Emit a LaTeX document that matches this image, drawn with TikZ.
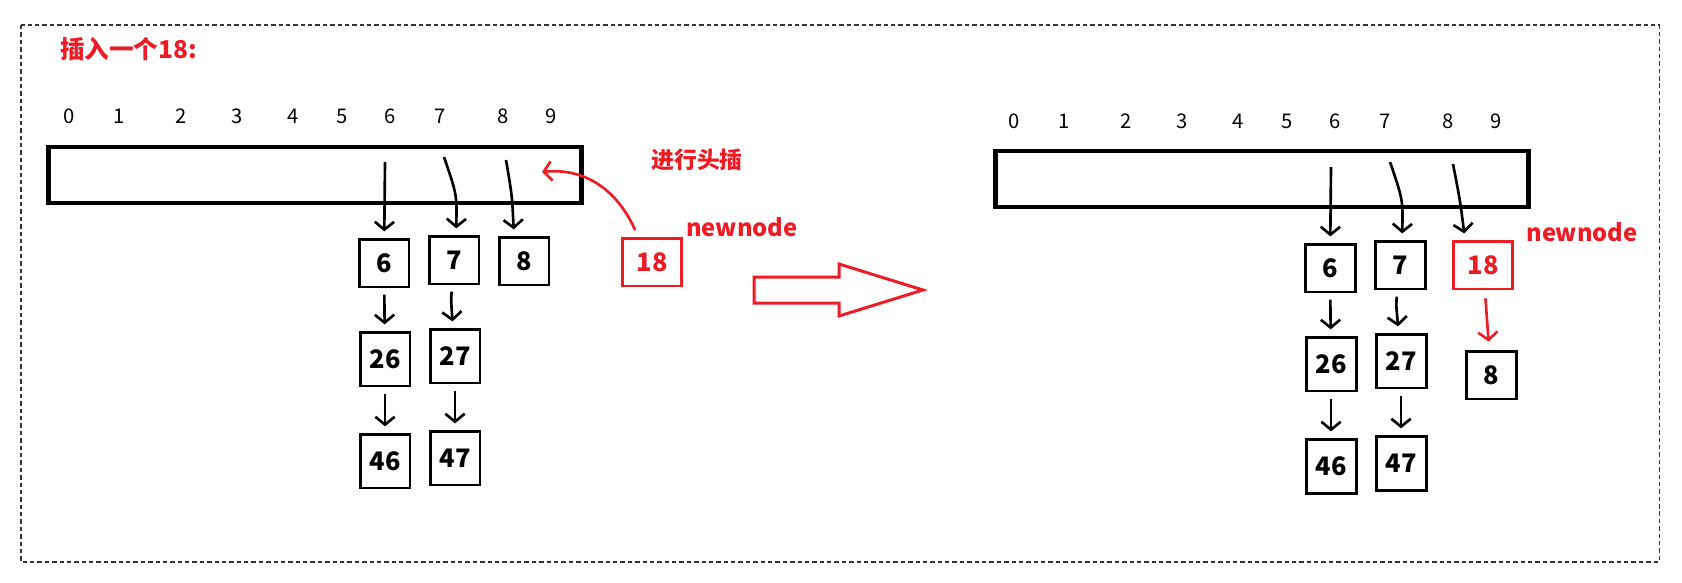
\documentclass[tikz,border=0pt]{standalone}
\usepackage{fontspec}
\setmainfont{Noto Sans CJK SC}
\usetikzlibrary{arrows.meta}
\definecolor{paintred}{RGB}{237,28,36}

\begin{document}
\begin{tikzpicture}[x=0.02cm, y=-0.02cm,
    cell/.style={draw, line width=1.7pt, minimum width=1cm, minimum height=0.96cm, inner sep=0pt,
      font=\fontsize{14.5}{16}\selectfont\bfseries},
    tall/.style={minimum height=1.08cm},
    redcell/.style={cell, draw=paintred, text=paintred, minimum width=1.18cm},
    bucket/.style={draw, line width=2.4pt, minimum width=10.66cm, minimum height=1.12cm, inner sep=0pt},
    idx/.style={font=\fontsize{11.5}{13}\selectfont},
    ptr/.style={line width=1.5pt, -{Straight Barb[length=4.5pt,width=11pt]}, shorten >=3.5pt},
    redptr/.style={ptr, draw=paintred},
    redtxt/.style={text=paintred, font=\fontsize{13}{15}\selectfont\bfseries}]
  \useasboundingbox (0,0) rectangle (1682,582);
  % 虚线外框
  \draw[black!80, line width=0.6pt, dash pattern=on 2.5pt off 1.7pt] (21,25) rectangle (1659,562);
  \node[redtxt, font=\fontsize{14}{16}\selectfont\bfseries, anchor=west] (title) at (54,49) {插入一个18:};

  % 插入前
  \node[bucket] (tabL) at (315,175) {};
  \foreach \i/\x in {0/69,1/119,2/181,3/237,4/293,5/342,6/390,7/440,8/503,9/551}
    \node[idx] (iL\i) at (\x,116) {\i};
  \node[cell] (L6) at (384,263) {6};
  \node[cell] (L7) at (454,260) {7};
  \node[cell] (L8) at (524,261) {8};
  \node[cell, tall] (L26) at (385,359) {26};
  \node[cell, tall] (L27) at (455,356) {27};
  \node[cell, tall] (L46) at (385,461) {46};
  \node[cell, tall] (L47) at (455,458) {47};
  \node[redcell] (N18) at (652,262) {18};
  \node[redtxt] (tipL) at (697,160) {进行头插};
  \node[redtxt, font=\fontsize{13.5}{15}\selectfont\bfseries] (nnL) at (742,227) {newnode};
  \coordinate (pL6) at (385,162);
  \coordinate (pL7) at (444,157);
  \coordinate (pL8) at (506,160);
  \coordinate (hL) at (542,172);
  \draw[ptr] (pL6) -- (L6);
  \draw[ptr] (pL7) .. controls (457,195) .. ([xshift=0.04cm]L7.north);
  \draw[ptr] (pL8) .. controls (512,195) .. ([xshift=-0.2cm]L8.north);
  \draw[ptr, shorten <=3.5pt] (L6) -- (L26);
  \draw[ptr, shorten <=3.5pt] (L7) .. controls (451,300) .. (L27);
  \draw[ptr, shorten <=3.5pt] (L26) -- (L46);
  \draw[ptr, shorten <=3.5pt] (L27) -- (L47);
  \draw[redptr, shorten >=0pt, shorten <=4pt] ([xshift=-0.28cm]N18.north) .. controls (615,185) and (580,168) .. (hL);

  % 空心箭头
  \draw[paintred, line width=1.7pt] (754,277) -- (839,277) -- (839,264) -- (923,290)
    -- (839,316) -- (839,303) -- (754,303) -- cycle;

  % 插入后
  \node[bucket] (tabR) at (1262,179) {};
  \foreach \i/\x in {0/69,1/119,2/181,3/237,4/293,5/342,6/390,7/440,8/503,9/551}
    \node[idx] (iR\i) at (\x+945,121) {\i};
  \node[cell] (R6) at (1330,268) {6};
  \node[cell] (R7) at (1400,265) {7};
  \node[redcell] (R18) at (1483,265) {18};
  \node[cell, tall] (R26) at (1331,364) {26};
  \node[cell, tall] (R27) at (1401,361) {27};
  \node[cell] (R8) at (1491,375) {8};
  \node[cell, tall] (R46) at (1331,466) {46};
  \node[cell, tall] (R47) at (1401,463) {47};
  \node[redtxt, font=\fontsize{13.5}{15}\selectfont\bfseries] (nnR) at (1582,232) {newnode};
  \coordinate (pR6) at (1331,167);
  \coordinate (pR7) at (1390,162);
  \coordinate (pR8) at (1453,164);
  \draw[ptr] (pR6) -- (R6);
  \draw[ptr] (pR7) .. controls (1403,200) .. ([xshift=0.04cm]R7.north);
  \draw[ptr] (pR8) .. controls (1460,200) .. ([xshift=-0.36cm]R18.north);
  \draw[ptr, shorten <=3.5pt] (R6) -- (R26);
  \draw[ptr, shorten <=3.5pt] (R7) .. controls (1396,303) .. (R27);
  \draw[ptr, shorten <=3.5pt] (R26) -- (R46);
  \draw[ptr, shorten <=3.5pt] (R27) -- (R47);
  \draw[redptr, shorten <=4.5pt, shorten >=4.5pt] (R18) -- (R8);
\end{tikzpicture}
\end{document}
